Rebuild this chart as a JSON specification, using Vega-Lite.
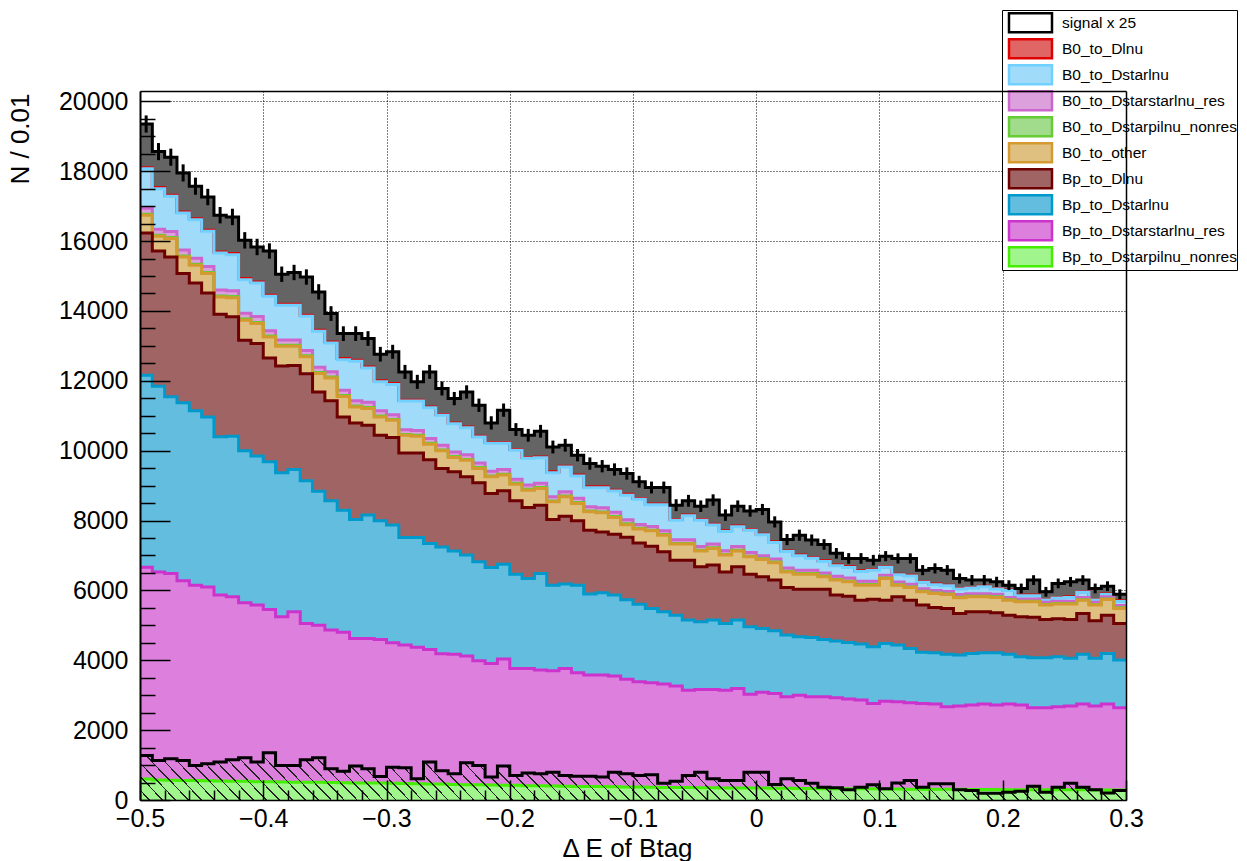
{
  "$schema": "https://vega.github.io/schema/vega-lite/v6.json",
  "width": 986,
  "height": 709,
  "autosize": {"type": "none"},
  "padding": {"left": 140, "top": 91, "right": 121, "bottom": 61},
  "background": "white",
  "config": {
    "view": {"stroke": null},
    "axis": {"labelFont": "Liberation Sans", "titleFont": "Liberation Sans", "labelColor": "black", "titleColor": "black"},
    "legend": {"labelFont": "Liberation Sans"}
  },
  "datasets": {
    "comps": [
      {"k": "d0", "name": "B0_to_Dlnu", "rank": 9},
      {"k": "lb", "name": "B0_to_Dstarlnu", "rank": 8},
      {"k": "p0", "name": "B0_to_Dstarstarlnu_res", "rank": 7},
      {"k": "g0", "name": "B0_to_Dstarpilnu_nonres", "rank": 6},
      {"k": "t", "name": "B0_to_other", "rank": 5},
      {"k": "r", "name": "Bp_to_Dlnu", "rank": 4},
      {"k": "b", "name": "Bp_to_Dstarlnu", "rank": 3},
      {"k": "m", "name": "Bp_to_Dstarstarlnu_res", "rank": 2},
      {"k": "g", "name": "Bp_to_Dstarpilnu_nonres", "rank": 1}
    ],
    "h": [
      {"x":-0.5,"n":19350,"e":245,"s":1275,"g":600,"m":6060,"b":5500,"r":4070,"t":510,"g0":30,"p0":170,"lb":1130,"d0":30},
      {"x":-0.49,"n":18560,"e":245,"s":1130,"g":575,"m":5955,"b":5315,"r":3870,"t":420,"g0":30,"p0":170,"lb":1165,"d0":30},
      {"x":-0.48,"n":18400,"e":245,"s":1180,"g":565,"m":5920,"b":5055,"r":4005,"t":525,"g0":30,"p0":170,"lb":1010,"d0":30},
      {"x":-0.47,"n":17950,"e":245,"s":1130,"g":560,"m":5715,"b":5095,"r":3700,"t":475,"g0":30,"p0":170,"lb":1055,"d0":30},
      {"x":-0.46,"n":17570,"e":245,"s":990,"g":555,"m":5595,"b":4990,"r":3660,"t":505,"g0":30,"p0":170,"lb":1105,"d0":30},
      {"x":-0.45,"n":17260,"e":235,"s":1035,"g":550,"m":5550,"b":4865,"r":3550,"t":555,"g0":30,"p0":170,"lb":1010,"d0":30},
      {"x":-0.44,"n":16740,"e":235,"s":1085,"g":545,"m":5320,"b":4530,"r":3510,"t":495,"g0":30,"p0":170,"lb":1055,"d0":30},
      {"x":-0.43,"n":16690,"e":235,"s":1150,"g":540,"m":5275,"b":4600,"r":3415,"t":550,"g0":30,"p0":170,"lb":1030,"d0":30},
      {"x":-0.42,"n":16020,"e":235,"s":1210,"g":535,"m":5110,"b":4350,"r":3165,"t":575,"g0":30,"p0":170,"lb":960,"d0":30},
      {"x":-0.41,"n":15830,"e":235,"s":1085,"g":525,"m":5055,"b":4270,"r":3215,"t":575,"g0":30,"p0":170,"lb":960,"d0":30},
      {"x":-0.4,"n":15715,"e":220,"s":1350,"g":520,"m":4935,"b":4225,"r":2970,"t":605,"g0":30,"p0":150,"lb":985,"d0":30},
      {"x":-0.39,"n":15050,"e":220,"s":990,"g":515,"m":4730,"b":4120,"r":3055,"t":570,"g0":30,"p0":150,"lb":990,"d0":30},
      {"x":-0.38,"n":15100,"e":220,"s":990,"g":510,"m":4880,"b":4070,"r":2980,"t":550,"g0":30,"p0":150,"lb":990,"d0":30},
      {"x":-0.37,"n":14970,"e":220,"s":1150,"g":505,"m":4550,"b":4080,"r":3065,"t":485,"g0":30,"p0":150,"lb":980,"d0":30},
      {"x":-0.36,"n":14545,"e":220,"s":1210,"g":505,"m":4500,"b":3835,"r":2840,"t":525,"g0":30,"p0":150,"lb":1030,"d0":30},
      {"x":-0.35,"n":13925,"e":210,"s":895,"g":500,"m":4365,"b":3700,"r":2860,"t":655,"g0":30,"p0":150,"lb":820,"d0":30},
      {"x":-0.34,"n":13350,"e":210,"s":825,"g":495,"m":4305,"b":3495,"r":2670,"t":585,"g0":30,"p0":150,"lb":875,"d0":30},
      {"x":-0.33,"n":13350,"e":210,"s":970,"g":490,"m":4135,"b":3405,"r":2765,"t":455,"g0":30,"p0":150,"lb":1130,"d0":30},
      {"x":-0.32,"n":13210,"e":210,"s":895,"g":490,"m":4135,"b":3530,"r":2575,"t":475,"g0":30,"p0":150,"lb":980,"d0":30},
      {"x":-0.31,"n":12760,"e":210,"s":675,"g":485,"m":4110,"b":3395,"r":2450,"t":525,"g0":30,"p0":150,"lb":825,"d0":30},
      {"x":-0.3,"n":12830,"e":200,"s":940,"g":480,"m":4020,"b":3370,"r":2505,"t":495,"g0":25,"p0":135,"lb":865,"d0":25},
      {"x":-0.29,"n":12255,"e":200,"s":920,"g":470,"m":3965,"b":3080,"r":2420,"t":505,"g0":25,"p0":135,"lb":820,"d0":25},
      {"x":-0.28,"n":11970,"e":200,"s":607,"g":465,"m":3905,"b":3145,"r":2420,"t":480,"g0":25,"p0":135,"lb":845,"d0":25},
      {"x":-0.27,"n":12255,"e":200,"s":1085,"g":460,"m":3850,"b":3035,"r":2395,"t":445,"g0":25,"p0":135,"lb":880,"d0":25},
      {"x":-0.26,"n":11780,"e":200,"s":840,"g":455,"m":3730,"b":3060,"r":2245,"t":505,"g0":25,"p0":135,"lb":855,"d0":25},
      {"x":-0.25,"n":11490,"e":190,"s":750,"g":445,"m":3730,"b":2955,"r":2265,"t":410,"g0":25,"p0":135,"lb":805,"d0":25},
      {"x":-0.24,"n":11680,"e":190,"s":1065,"g":440,"m":3680,"b":2890,"r":2240,"t":475,"g0":25,"p0":135,"lb":770,"d0":25},
      {"x":-0.23,"n":11300,"e":190,"s":990,"g":435,"m":3550,"b":2835,"r":2260,"t":410,"g0":25,"p0":135,"lb":740,"d0":25},
      {"x":-0.22,"n":10795,"e":190,"s":655,"g":430,"m":3480,"b":2745,"r":2120,"t":475,"g0":25,"p0":135,"lb":800,"d0":25},
      {"x":-0.21,"n":11160,"e":190,"s":970,"g":425,"m":3610,"b":2715,"r":2100,"t":450,"g0":25,"p0":135,"lb":750,"d0":25},
      {"x":-0.2,"n":10605,"e":183,"s":700,"g":420,"m":3345,"b":2700,"r":2100,"t":475,"g0":25,"p0":120,"lb":825,"d0":25},
      {"x":-0.19,"n":10440,"e":183,"s":770,"g":410,"m":3355,"b":2575,"r":2035,"t":495,"g0":25,"p0":120,"lb":765,"d0":25},
      {"x":-0.18,"n":10555,"e":183,"s":750,"g":405,"m":3315,"b":2765,"r":1955,"t":480,"g0":25,"p0":120,"lb":730,"d0":25},
      {"x":-0.17,"n":10105,"e":183,"s":795,"g":400,"m":3300,"b":2450,"r":1880,"t":505,"g0":25,"p0":120,"lb":690,"d0":25},
      {"x":-0.16,"n":10155,"e":183,"s":700,"g":395,"m":3370,"b":2415,"r":1945,"t":555,"g0":25,"p0":120,"lb":705,"d0":25},
      {"x":-0.15,"n":9870,"e":176,"s":680,"g":390,"m":3250,"b":2510,"r":1840,"t":500,"g0":25,"p0":120,"lb":640,"d0":25},
      {"x":-0.14,"n":9630,"e":176,"s":680,"g":390,"m":3185,"b":2320,"r":1830,"t":525,"g0":25,"p0":120,"lb":545,"d0":25},
      {"x":-0.13,"n":9555,"e":176,"s":655,"g":385,"m":3190,"b":2355,"r":1745,"t":545,"g0":25,"p0":120,"lb":575,"d0":25},
      {"x":-0.12,"n":9460,"e":176,"s":795,"g":380,"m":3170,"b":2315,"r":1745,"t":480,"g0":25,"p0":120,"lb":610,"d0":25},
      {"x":-0.11,"n":9345,"e":176,"s":750,"g":375,"m":3080,"b":2275,"r":1790,"t":360,"g0":25,"p0":120,"lb":700,"d0":25},
      {"x":-0.1,"n":9110,"e":170,"s":700,"g":370,"m":3015,"b":2215,"r":1760,"t":400,"g0":20,"p0":105,"lb":725,"d0":20},
      {"x":-0.09,"n":8945,"e":170,"s":725,"g":365,"m":2990,"b":2130,"r":1780,"t":440,"g0":20,"p0":105,"lb":620,"d0":20},
      {"x":-0.08,"n":8945,"e":170,"s":480,"g":360,"m":2960,"b":2070,"r":1715,"t":475,"g0":20,"p0":105,"lb":745,"d0":20},
      {"x":-0.07,"n":8440,"e":170,"s":540,"g":360,"m":2900,"b":2030,"r":1575,"t":460,"g0":20,"p0":105,"lb":560,"d0":20},
      {"x":-0.06,"n":8565,"e":170,"s":700,"g":355,"m":2790,"b":2005,"r":1715,"t":460,"g0":20,"p0":105,"lb":685,"d0":20},
      {"x":-0.05,"n":8410,"e":165,"s":795,"g":350,"m":2815,"b":1935,"r":1575,"t":455,"g0":20,"p0":105,"lb":755,"d0":20},
      {"x":-0.04,"n":8585,"e":165,"s":605,"g":350,"m":2815,"b":1985,"r":1575,"t":475,"g0":20,"p0":105,"lb":550,"d0":20},
      {"x":-0.03,"n":8155,"e":165,"s":560,"g":345,"m":2800,"b":1910,"r":1475,"t":480,"g0":20,"p0":105,"lb":550,"d0":20},
      {"x":-0.02,"n":8410,"e":165,"s":560,"g":345,"m":2850,"b":1955,"r":1525,"t":455,"g0":20,"p0":105,"lb":565,"d0":20},
      {"x":-0.01,"n":8275,"e":165,"s":795,"g":340,"m":2690,"b":1930,"r":1505,"t":495,"g0":20,"p0":105,"lb":640,"d0":20},
      {"x":0,"n":8315,"e":160,"s":795,"g":340,"m":2745,"b":1825,"r":1480,"t":495,"g0":20,"p0":90,"lb":595,"d0":20},
      {"x":0.01,"n":7960,"e":160,"s":445,"g":335,"m":2715,"b":1795,"r":1450,"t":495,"g0":20,"p0":90,"lb":470,"d0":20},
      {"x":0.02,"n":7455,"e":160,"s":605,"g":335,"m":2620,"b":1765,"r":1365,"t":445,"g0":20,"p0":90,"lb":470,"d0":20},
      {"x":0.03,"n":7580,"e":160,"s":560,"g":330,"m":2665,"b":1675,"r":1360,"t":435,"g0":20,"p0":90,"lb":415,"d0":20},
      {"x":0.04,"n":7440,"e":160,"s":480,"g":330,"m":2625,"b":1700,"r":1375,"t":435,"g0":20,"p0":90,"lb":345,"d0":20},
      {"x":0.05,"n":7315,"e":152,"s":365,"g":325,"m":2630,"b":1640,"r":1435,"t":360,"g0":20,"p0":90,"lb":325,"d0":20},
      {"x":0.06,"n":7060,"e":152,"s":350,"g":325,"m":2605,"b":1620,"r":1315,"t":430,"g0":20,"p0":90,"lb":300,"d0":20},
      {"x":0.07,"n":6915,"e":152,"s":290,"g":320,"m":2570,"b":1620,"r":1325,"t":410,"g0":20,"p0":90,"lb":300,"d0":20},
      {"x":0.08,"n":6915,"e":152,"s":365,"g":320,"m":2540,"b":1605,"r":1255,"t":430,"g0":20,"p0":90,"lb":280,"d0":20},
      {"x":0.09,"n":6865,"e":152,"s":435,"g":320,"m":2445,"b":1620,"r":1365,"t":400,"g0":20,"p0":90,"lb":320,"d0":20},
      {"x":0.1,"n":6980,"e":145,"s":320,"g":315,"m":2515,"b":1650,"r":1240,"t":620,"g0":15,"p0":75,"lb":230,"d0":15},
      {"x":0.11,"n":6915,"e":145,"s":490,"g":315,"m":2495,"b":1625,"r":1380,"t":335,"g0":15,"p0":75,"lb":210,"d0":15},
      {"x":0.12,"n":6915,"e":145,"s":560,"g":310,"m":2475,"b":1555,"r":1380,"t":365,"g0":15,"p0":75,"lb":240,"d0":15},
      {"x":0.13,"n":6580,"e":145,"s":365,"g":310,"m":2455,"b":1465,"r":1350,"t":380,"g0":15,"p0":75,"lb":180,"d0":15},
      {"x":0.14,"n":6630,"e":145,"s":465,"g":310,"m":2435,"b":1470,"r":1295,"t":400,"g0":15,"p0":75,"lb":165,"d0":15},
      {"x":0.15,"n":6580,"e":145,"s":465,"g":305,"m":2365,"b":1500,"r":1315,"t":395,"g0":15,"p0":75,"lb":165,"d0":15},
      {"x":0.16,"n":6340,"e":145,"s":290,"g":305,"m":2385,"b":1460,"r":1190,"t":450,"g0":15,"p0":75,"lb":160,"d0":15},
      {"x":0.17,"n":6295,"e":145,"s":270,"g":300,"m":2420,"b":1475,"r":1195,"t":425,"g0":15,"p0":75,"lb":165,"d0":15},
      {"x":0.18,"n":6295,"e":145,"s":195,"g":300,"m":2445,"b":1470,"r":1175,"t":425,"g0":15,"p0":75,"lb":200,"d0":15},
      {"x":0.19,"n":6245,"e":145,"s":195,"g":300,"m":2420,"b":1495,"r":1145,"t":440,"g0":15,"p0":75,"lb":150,"d0":15},
      {"x":0.2,"n":6150,"e":140,"s":225,"g":295,"m":2450,"b":1425,"r":1120,"t":430,"g0":15,"p0":65,"lb":195,"d0":15},
      {"x":0.21,"n":6055,"e":140,"s":250,"g":295,"m":2425,"b":1380,"r":1145,"t":430,"g0":15,"p0":65,"lb":95,"d0":15},
      {"x":0.22,"n":6295,"e":140,"s":395,"g":295,"m":2345,"b":1430,"r":1160,"t":445,"g0":15,"p0":65,"lb":95,"d0":15},
      {"x":0.23,"n":5960,"e":140,"s":225,"g":290,"m":2350,"b":1430,"r":1100,"t":410,"g0":15,"p0":65,"lb":65,"d0":15},
      {"x":0.24,"n":6200,"e":140,"s":365,"g":290,"m":2380,"b":1430,"r":1085,"t":425,"g0":15,"p0":65,"lb":95,"d0":15},
      {"x":0.25,"n":6245,"e":140,"s":480,"g":290,"m":2400,"b":1365,"r":1115,"t":440,"g0":15,"p0":65,"lb":110,"d0":15},
      {"x":0.26,"n":6295,"e":140,"s":365,"g":290,"m":2455,"b":1430,"r":1165,"t":380,"g0":15,"p0":65,"lb":145,"d0":15},
      {"x":0.27,"n":6055,"e":140,"s":290,"g":285,"m":2405,"b":1365,"r":1075,"t":450,"g0":15,"p0":65,"lb":65,"d0":15},
      {"x":0.28,"n":6120,"e":140,"s":200,"g":285,"m":2460,"b":1450,"r":1095,"t":450,"g0":15,"p0":65,"lb":60,"d0":15},
      {"x":0.29,"n":5890,"e":140,"s":270,"g":285,"m":2355,"b":1365,"r":1050,"t":430,"g0":15,"p0":65,"lb":120,"d0":15},
      {"x":0.3,"n":5890,"e":140,"s":270,"g":285,"m":2355,"b":1365,"r":1050,"t":430,"g0":15,"p0":65,"lb":120,"d0":15}
    ]
  },
  "data": {"name": "h"},
  "layer": [
    {
      "mark": {"type": "area", "interpolate": "step-after", "color": "#646464", "opacity": 1},
      "encoding": {
        "x": {"field": "x", "type": "quantitative", "scale": {"domain": [-0.5, 0.3], "nice": false, "zero": false},
          "axis": {"orient": "bottom", "values": [-0.5,-0.4,-0.3,-0.2,-0.1,0,0.1,0.2,0.3], "format": ".1~f", "ticks": false, "domain": false,
            "grid": true, "gridColor": "black", "gridDash": [1,2], "gridWidth": 1, "gridOpacity": 1,
            "labelFontSize": 25, "labelPadding": 6, "labelFlush": false, "labelOverlap": false,
            "title": "Δ E of Btag", "titleFontSize": 26, "titleFontWeight": "normal", "titleX": 487, "titleY": 56, "titleAlign": "center", "titleBaseline": "alphabetic", "zindex": 0}},
        "y": {"field": "n", "type": "quantitative", "stack": null, "scale": {"domain": [0, 20295], "nice": false},
          "axis": {"orient": "left", "values": [0,2000,4000,6000,8000,10000,12000,14000,16000,18000,20000], "format": "d", "ticks": false, "domain": false,
            "grid": true, "gridColor": "black", "gridDash": [1,2], "gridWidth": 1, "gridOpacity": 1,
            "labelFontSize": 25, "labelPadding": 12, "labelOverlap": false, "labelFlush": false,
            "title": "N / 0.01", "titleFontSize": 26, "titleFontWeight": "normal", "titleAngle": 270, "titleX": -112, "titleY": 2, "titleAlign": "right", "titleBaseline": "alphabetic", "zindex": 0}}
      }
    },
    {
      "transform": [
        {"fold": ["d0","lb","p0","g0","t","r","b","m","g"], "as": ["k","v"]},
        {"lookup": "k", "from": {"data": {"name": "comps"}, "key": "k", "fields": ["name","rank"]}}
      ],
      "mark": {"type": "area", "interpolate": "step-after", "opacity": 1},
      "encoding": {
        "x": {"field": "x", "type": "quantitative", "scale": {"domain": [-0.5, 0.3], "nice": false, "zero": false},
          "axis": {"orient": "top", "ticks": false, "labels": false, "grid": false, "domain": true, "domainColor": "black", "domainWidth": 1.5, "title": null, "zindex": 1}},
        "y": {"field": "v", "type": "quantitative", "stack": "zero", "scale": {"domain": [0, 20295], "nice": false},
          "axis": {"orient": "right", "ticks": false, "labels": false, "grid": false, "domain": true, "domainColor": "black", "domainWidth": 1.5, "title": null, "zindex": 1}},
        "fill": {"field": "name", "type": "nominal",
          "scale": {
            "domain": ["signal x 25","B0_to_Dlnu","B0_to_Dstarlnu","B0_to_Dstarstarlnu_res","B0_to_Dstarpilnu_nonres","B0_to_other","Bp_to_Dlnu","Bp_to_Dstarlnu","Bp_to_Dstarstarlnu_res","Bp_to_Dstarpilnu_nonres"],
            "range": ["white","#e06666","#a0dcfa","#dca0dc","#a0dc8c","#dfc080","#a06464","#62bddf","#dd80dd","#a0f58c"]
          },
          "legend": {
            "orient": "none", "legendX": 862, "legendY": -81, "title": null, "padding": 0,
            "fillColor": "white", "strokeColor": "black", "clipHeight": 25.7,
            "symbolType": "M-0.3125,-1.1875H5.0625V1.1875H-0.3125Z", "symbolSize": 256, "symbolStrokeWidth": 2.5,
            "labelFontSize": 15.5, "labelColor": "black", "labelOffset": 41, "labelLimit": 230, "rowPadding": 0,
            "encode": {
              "symbols": {
                "shape": {"value": {"expr": "datum.value === 'signal x 25' ? 'M-0.3125,-1.1875H5.0625V1.1875H-0.3125Z M-0.3125,0.0625L0.8125,1.1875 M-0.3125,-1.1875L2.0625,1.1875 M0.9375,-1.1875L3.3125,1.1875 M2.1875,-1.1875L4.5625,1.1875 M3.4375,-1.1875L5.0625,0.4375' : 'M-0.3125,-1.1875H5.0625V1.1875H-0.3125Z'"}},
                "fill": {"value": {"expr": "scale('fill', datum.value)"}},
                "stroke": {"value": {"expr": "scale('stroke', datum.value)"}},
                "strokeWidth": {"value": 2.5},
                "opacity": {"value": 1}
              }
            }
          }
        },
        "order": {"field": "rank", "type": "quantitative", "sort": "ascending"}
      }
    },
    {
      "transform": [
        {"fold": ["d0","lb","p0","g0","t","r","b","m","g"], "as": ["k","v"]},
        {"lookup": "k", "from": {"data": {"name": "comps"}, "key": "k", "fields": ["name","rank"]}},
        {"window": [{"op": "sum", "field": "v", "as": "cum"}], "groupby": ["x"], "sort": [{"field": "rank", "order": "ascending"}], "frame": [null, 0]}
      ],
      "mark": {"type": "line", "interpolate": "step-after", "strokeWidth": 3},
      "encoding": {
        "x": {"field": "x", "type": "quantitative", "scale": {"domain": [-0.5, 0.3], "nice": false, "zero": false}, "axis": null},
        "y": {"field": "cum", "type": "quantitative", "scale": {"domain": [0, 20295], "nice": false}, "axis": null},
        "stroke": {"field": "name", "type": "nominal",
          "scale": {
            "domain": ["signal x 25","B0_to_Dlnu","B0_to_Dstarlnu","B0_to_Dstarstarlnu_res","B0_to_Dstarpilnu_nonres","B0_to_other","Bp_to_Dlnu","Bp_to_Dstarlnu","Bp_to_Dstarstarlnu_res","Bp_to_Dstarpilnu_nonres"],
            "range": ["black","#e00000","#70d0ff","#cc66cc","#66cc33","#d49a30","#6e0000","#0099cc","#cc33cc","#44ee00"]
          },
          "legend": null
        }
      }
    },
    {
      "mark": {"type": "area", "interpolate": "step-after", "opacity": 1,
        "fill": {"gradient": "linear", "x1": -0.05, "y1": 0, "x2": 1, "y2": -0.048, "stops": [
          {"offset":0,"color":"transparent"},
          {"offset":0.0125,"color":"transparent"},{"offset":0.0125,"color":"#222"},{"offset":0.0141,"color":"#222"},{"offset":0.0141,"color":"transparent"},
          {"offset":0.025,"color":"transparent"},{"offset":0.025,"color":"#222"},{"offset":0.0266,"color":"#222"},{"offset":0.0266,"color":"transparent"},
          {"offset":0.0375,"color":"transparent"},{"offset":0.0375,"color":"#222"},{"offset":0.0391,"color":"#222"},{"offset":0.0391,"color":"transparent"},
          {"offset":0.05,"color":"transparent"},{"offset":0.05,"color":"#222"},{"offset":0.0516,"color":"#222"},{"offset":0.0516,"color":"transparent"},
          {"offset":0.0625,"color":"transparent"},{"offset":0.0625,"color":"#222"},{"offset":0.0641,"color":"#222"},{"offset":0.0641,"color":"transparent"},
          {"offset":0.075,"color":"transparent"},{"offset":0.075,"color":"#222"},{"offset":0.0766,"color":"#222"},{"offset":0.0766,"color":"transparent"},
          {"offset":0.0875,"color":"transparent"},{"offset":0.0875,"color":"#222"},{"offset":0.0891,"color":"#222"},{"offset":0.0891,"color":"transparent"},
          {"offset":0.1,"color":"transparent"},{"offset":0.1,"color":"#222"},{"offset":0.1016,"color":"#222"},{"offset":0.1016,"color":"transparent"},
          {"offset":0.1125,"color":"transparent"},{"offset":0.1125,"color":"#222"},{"offset":0.1141,"color":"#222"},{"offset":0.1141,"color":"transparent"},
          {"offset":0.125,"color":"transparent"},{"offset":0.125,"color":"#222"},{"offset":0.1266,"color":"#222"},{"offset":0.1266,"color":"transparent"},
          {"offset":0.1375,"color":"transparent"},{"offset":0.1375,"color":"#222"},{"offset":0.1391,"color":"#222"},{"offset":0.1391,"color":"transparent"},
          {"offset":0.15,"color":"transparent"},{"offset":0.15,"color":"#222"},{"offset":0.1516,"color":"#222"},{"offset":0.1516,"color":"transparent"},
          {"offset":0.1625,"color":"transparent"},{"offset":0.1625,"color":"#222"},{"offset":0.1641,"color":"#222"},{"offset":0.1641,"color":"transparent"},
          {"offset":0.175,"color":"transparent"},{"offset":0.175,"color":"#222"},{"offset":0.1766,"color":"#222"},{"offset":0.1766,"color":"transparent"},
          {"offset":0.1875,"color":"transparent"},{"offset":0.1875,"color":"#222"},{"offset":0.1891,"color":"#222"},{"offset":0.1891,"color":"transparent"},
          {"offset":0.2,"color":"transparent"},{"offset":0.2,"color":"#222"},{"offset":0.2016,"color":"#222"},{"offset":0.2016,"color":"transparent"},
          {"offset":0.2125,"color":"transparent"},{"offset":0.2125,"color":"#222"},{"offset":0.2141,"color":"#222"},{"offset":0.2141,"color":"transparent"},
          {"offset":0.225,"color":"transparent"},{"offset":0.225,"color":"#222"},{"offset":0.2266,"color":"#222"},{"offset":0.2266,"color":"transparent"},
          {"offset":0.2375,"color":"transparent"},{"offset":0.2375,"color":"#222"},{"offset":0.2391,"color":"#222"},{"offset":0.2391,"color":"transparent"},
          {"offset":0.25,"color":"transparent"},{"offset":0.25,"color":"#222"},{"offset":0.2516,"color":"#222"},{"offset":0.2516,"color":"transparent"},
          {"offset":0.2625,"color":"transparent"},{"offset":0.2625,"color":"#222"},{"offset":0.2641,"color":"#222"},{"offset":0.2641,"color":"transparent"},
          {"offset":0.275,"color":"transparent"},{"offset":0.275,"color":"#222"},{"offset":0.2766,"color":"#222"},{"offset":0.2766,"color":"transparent"},
          {"offset":0.2875,"color":"transparent"},{"offset":0.2875,"color":"#222"},{"offset":0.2891,"color":"#222"},{"offset":0.2891,"color":"transparent"},
          {"offset":0.3,"color":"transparent"},{"offset":0.3,"color":"#222"},{"offset":0.3016,"color":"#222"},{"offset":0.3016,"color":"transparent"},
          {"offset":0.3125,"color":"transparent"},{"offset":0.3125,"color":"#222"},{"offset":0.3141,"color":"#222"},{"offset":0.3141,"color":"transparent"},
          {"offset":0.325,"color":"transparent"},{"offset":0.325,"color":"#222"},{"offset":0.3266,"color":"#222"},{"offset":0.3266,"color":"transparent"},
          {"offset":0.3375,"color":"transparent"},{"offset":0.3375,"color":"#222"},{"offset":0.3391,"color":"#222"},{"offset":0.3391,"color":"transparent"},
          {"offset":0.35,"color":"transparent"},{"offset":0.35,"color":"#222"},{"offset":0.3516,"color":"#222"},{"offset":0.3516,"color":"transparent"},
          {"offset":0.3625,"color":"transparent"},{"offset":0.3625,"color":"#222"},{"offset":0.3641,"color":"#222"},{"offset":0.3641,"color":"transparent"},
          {"offset":0.375,"color":"transparent"},{"offset":0.375,"color":"#222"},{"offset":0.3766,"color":"#222"},{"offset":0.3766,"color":"transparent"},
          {"offset":0.3875,"color":"transparent"},{"offset":0.3875,"color":"#222"},{"offset":0.3891,"color":"#222"},{"offset":0.3891,"color":"transparent"},
          {"offset":0.4,"color":"transparent"},{"offset":0.4,"color":"#222"},{"offset":0.4016,"color":"#222"},{"offset":0.4016,"color":"transparent"},
          {"offset":0.4125,"color":"transparent"},{"offset":0.4125,"color":"#222"},{"offset":0.4141,"color":"#222"},{"offset":0.4141,"color":"transparent"},
          {"offset":0.425,"color":"transparent"},{"offset":0.425,"color":"#222"},{"offset":0.4266,"color":"#222"},{"offset":0.4266,"color":"transparent"},
          {"offset":0.4375,"color":"transparent"},{"offset":0.4375,"color":"#222"},{"offset":0.4391,"color":"#222"},{"offset":0.4391,"color":"transparent"},
          {"offset":0.45,"color":"transparent"},{"offset":0.45,"color":"#222"},{"offset":0.4516,"color":"#222"},{"offset":0.4516,"color":"transparent"},
          {"offset":0.4625,"color":"transparent"},{"offset":0.4625,"color":"#222"},{"offset":0.4641,"color":"#222"},{"offset":0.4641,"color":"transparent"},
          {"offset":0.475,"color":"transparent"},{"offset":0.475,"color":"#222"},{"offset":0.4766,"color":"#222"},{"offset":0.4766,"color":"transparent"},
          {"offset":0.4875,"color":"transparent"},{"offset":0.4875,"color":"#222"},{"offset":0.4891,"color":"#222"},{"offset":0.4891,"color":"transparent"},
          {"offset":0.5,"color":"transparent"},{"offset":0.5,"color":"#222"},{"offset":0.5016,"color":"#222"},{"offset":0.5016,"color":"transparent"},
          {"offset":0.5125,"color":"transparent"},{"offset":0.5125,"color":"#222"},{"offset":0.5141,"color":"#222"},{"offset":0.5141,"color":"transparent"},
          {"offset":0.525,"color":"transparent"},{"offset":0.525,"color":"#222"},{"offset":0.5266,"color":"#222"},{"offset":0.5266,"color":"transparent"},
          {"offset":0.5375,"color":"transparent"},{"offset":0.5375,"color":"#222"},{"offset":0.5391,"color":"#222"},{"offset":0.5391,"color":"transparent"},
          {"offset":0.55,"color":"transparent"},{"offset":0.55,"color":"#222"},{"offset":0.5516,"color":"#222"},{"offset":0.5516,"color":"transparent"},
          {"offset":0.5625,"color":"transparent"},{"offset":0.5625,"color":"#222"},{"offset":0.5641,"color":"#222"},{"offset":0.5641,"color":"transparent"},
          {"offset":0.575,"color":"transparent"},{"offset":0.575,"color":"#222"},{"offset":0.5766,"color":"#222"},{"offset":0.5766,"color":"transparent"},
          {"offset":0.5875,"color":"transparent"},{"offset":0.5875,"color":"#222"},{"offset":0.5891,"color":"#222"},{"offset":0.5891,"color":"transparent"},
          {"offset":0.6,"color":"transparent"},{"offset":0.6,"color":"#222"},{"offset":0.6016,"color":"#222"},{"offset":0.6016,"color":"transparent"},
          {"offset":0.6125,"color":"transparent"},{"offset":0.6125,"color":"#222"},{"offset":0.6141,"color":"#222"},{"offset":0.6141,"color":"transparent"},
          {"offset":0.625,"color":"transparent"},{"offset":0.625,"color":"#222"},{"offset":0.6266,"color":"#222"},{"offset":0.6266,"color":"transparent"},
          {"offset":0.6375,"color":"transparent"},{"offset":0.6375,"color":"#222"},{"offset":0.6391,"color":"#222"},{"offset":0.6391,"color":"transparent"},
          {"offset":0.65,"color":"transparent"},{"offset":0.65,"color":"#222"},{"offset":0.6516,"color":"#222"},{"offset":0.6516,"color":"transparent"},
          {"offset":0.6625,"color":"transparent"},{"offset":0.6625,"color":"#222"},{"offset":0.6641,"color":"#222"},{"offset":0.6641,"color":"transparent"},
          {"offset":0.675,"color":"transparent"},{"offset":0.675,"color":"#222"},{"offset":0.6766,"color":"#222"},{"offset":0.6766,"color":"transparent"},
          {"offset":0.6875,"color":"transparent"},{"offset":0.6875,"color":"#222"},{"offset":0.6891,"color":"#222"},{"offset":0.6891,"color":"transparent"},
          {"offset":0.7,"color":"transparent"},{"offset":0.7,"color":"#222"},{"offset":0.7016,"color":"#222"},{"offset":0.7016,"color":"transparent"},
          {"offset":0.7125,"color":"transparent"},{"offset":0.7125,"color":"#222"},{"offset":0.7141,"color":"#222"},{"offset":0.7141,"color":"transparent"},
          {"offset":0.725,"color":"transparent"},{"offset":0.725,"color":"#222"},{"offset":0.7266,"color":"#222"},{"offset":0.7266,"color":"transparent"},
          {"offset":0.7375,"color":"transparent"},{"offset":0.7375,"color":"#222"},{"offset":0.7391,"color":"#222"},{"offset":0.7391,"color":"transparent"},
          {"offset":0.75,"color":"transparent"},{"offset":0.75,"color":"#222"},{"offset":0.7516,"color":"#222"},{"offset":0.7516,"color":"transparent"},
          {"offset":0.7625,"color":"transparent"},{"offset":0.7625,"color":"#222"},{"offset":0.7641,"color":"#222"},{"offset":0.7641,"color":"transparent"},
          {"offset":0.775,"color":"transparent"},{"offset":0.775,"color":"#222"},{"offset":0.7766,"color":"#222"},{"offset":0.7766,"color":"transparent"},
          {"offset":0.7875,"color":"transparent"},{"offset":0.7875,"color":"#222"},{"offset":0.7891,"color":"#222"},{"offset":0.7891,"color":"transparent"},
          {"offset":0.8,"color":"transparent"},{"offset":0.8,"color":"#222"},{"offset":0.8016,"color":"#222"},{"offset":0.8016,"color":"transparent"},
          {"offset":0.8125,"color":"transparent"},{"offset":0.8125,"color":"#222"},{"offset":0.8141,"color":"#222"},{"offset":0.8141,"color":"transparent"},
          {"offset":0.825,"color":"transparent"},{"offset":0.825,"color":"#222"},{"offset":0.8266,"color":"#222"},{"offset":0.8266,"color":"transparent"},
          {"offset":0.8375,"color":"transparent"},{"offset":0.8375,"color":"#222"},{"offset":0.8391,"color":"#222"},{"offset":0.8391,"color":"transparent"},
          {"offset":0.85,"color":"transparent"},{"offset":0.85,"color":"#222"},{"offset":0.8516,"color":"#222"},{"offset":0.8516,"color":"transparent"},
          {"offset":0.8625,"color":"transparent"},{"offset":0.8625,"color":"#222"},{"offset":0.8641,"color":"#222"},{"offset":0.8641,"color":"transparent"},
          {"offset":0.875,"color":"transparent"},{"offset":0.875,"color":"#222"},{"offset":0.8766,"color":"#222"},{"offset":0.8766,"color":"transparent"},
          {"offset":0.8875,"color":"transparent"},{"offset":0.8875,"color":"#222"},{"offset":0.8891,"color":"#222"},{"offset":0.8891,"color":"transparent"},
          {"offset":0.9,"color":"transparent"},{"offset":0.9,"color":"#222"},{"offset":0.9016,"color":"#222"},{"offset":0.9016,"color":"transparent"},
          {"offset":0.9125,"color":"transparent"},{"offset":0.9125,"color":"#222"},{"offset":0.9141,"color":"#222"},{"offset":0.9141,"color":"transparent"},
          {"offset":0.925,"color":"transparent"},{"offset":0.925,"color":"#222"},{"offset":0.9266,"color":"#222"},{"offset":0.9266,"color":"transparent"},
          {"offset":0.9375,"color":"transparent"},{"offset":0.9375,"color":"#222"},{"offset":0.9391,"color":"#222"},{"offset":0.9391,"color":"transparent"},
          {"offset":0.95,"color":"transparent"},{"offset":0.95,"color":"#222"},{"offset":0.9516,"color":"#222"},{"offset":0.9516,"color":"transparent"},
          {"offset":0.9625,"color":"transparent"},{"offset":0.9625,"color":"#222"},{"offset":0.9641,"color":"#222"},{"offset":0.9641,"color":"transparent"},
          {"offset":0.975,"color":"transparent"},{"offset":0.975,"color":"#222"},{"offset":0.9766,"color":"#222"},{"offset":0.9766,"color":"transparent"},
          {"offset":0.9875,"color":"transparent"},{"offset":0.9875,"color":"#222"},{"offset":0.9891,"color":"#222"},{"offset":0.9891,"color":"transparent"},
          {"offset":1,"color":"transparent"}
        ]}},
      "encoding": {
        "x": {"field": "x", "type": "quantitative", "scale": {"domain": [-0.5, 0.3], "nice": false, "zero": false}, "axis": null},
        "y": {"field": "s", "type": "quantitative", "stack": null, "scale": {"domain": [0, 20295], "nice": false}, "axis": null}
      }
    },
    {
      "mark": {"type": "line", "interpolate": "step-after", "color": "black", "strokeWidth": 3},
      "encoding": {
        "x": {"field": "x", "type": "quantitative", "scale": {"domain": [-0.5, 0.3], "nice": false, "zero": false},
          "axis": {"orient": "bottom", "values": [-0.48,-0.46,-0.44,-0.42,-0.38,-0.36,-0.34,-0.32,-0.28,-0.26,-0.24,-0.22,-0.18,-0.16,-0.14,-0.12,-0.08,-0.06,-0.04,-0.02,0.02,0.04,0.06,0.08,0.12,0.14,0.16,0.18,0.22,0.24,0.26,0.28],
            "ticks": true, "tickSize": -10, "tickWidth": 1.5, "tickColor": "black", "labels": false, "domain": false, "grid": false, "title": null, "zindex": 1}},
        "y": {"field": "s", "type": "quantitative", "scale": {"domain": [0, 20295], "nice": false},
          "axis": {"orient": "left", "values": [500,1000,1500,2500,3000,3500,4500,5000,5500,6500,7000,7500,8500,9000,9500,10500,11000,11500,12500,13000,13500,14500,15000,15500,16500,17000,17500,18500,19000,19500],
            "ticks": true, "tickSize": -15, "tickWidth": 1.5, "tickColor": "black", "labels": false, "domain": false, "grid": false, "title": null, "zindex": 1}}
      }
    },
    {
      "mark": {"type": "line", "interpolate": "step-after", "color": "black", "strokeWidth": 3},
      "encoding": {
        "x": {"field": "x", "type": "quantitative", "scale": {"domain": [-0.5, 0.3], "nice": false, "zero": false},
          "axis": {"orient": "bottom", "values": [-0.5,-0.4,-0.3,-0.2,-0.1,0,0.1,0.2,0.3],
            "ticks": true, "tickSize": -20, "tickWidth": 1.5, "tickColor": "black", "labels": false, "domain": true, "domainColor": "black", "domainWidth": 1.5, "grid": false, "title": null, "zindex": 1}},
        "y": {"field": "n", "type": "quantitative", "scale": {"domain": [0, 20295], "nice": false},
          "axis": {"orient": "left", "values": [0,2000,4000,6000,8000,10000,12000,14000,16000,18000,20000],
            "ticks": true, "tickSize": -30, "tickWidth": 1.5, "tickColor": "black", "labels": false, "domain": true, "domainColor": "black", "domainWidth": 2, "grid": false, "title": null, "zindex": 1}}
      }
    },
    {
      "transform": [{"filter": "datum.x < 0.295"}],
      "mark": {"type": "errorbar", "ticks": false, "rule": {"strokeWidth": 3, "color": "black", "xOffset": 6.16}},
      "encoding": {
        "x": {"field": "x", "type": "quantitative", "scale": {"domain": [-0.5, 0.3], "nice": false, "zero": false}, "axis": null},
        "y": {"field": "n", "type": "quantitative", "scale": {"domain": [0, 20295], "nice": false}, "axis": null},
        "yError": {"field": "e"}
      }
    }
  ],
  "resolve": {"axis": {"x": "independent", "y": "independent"}}
}
